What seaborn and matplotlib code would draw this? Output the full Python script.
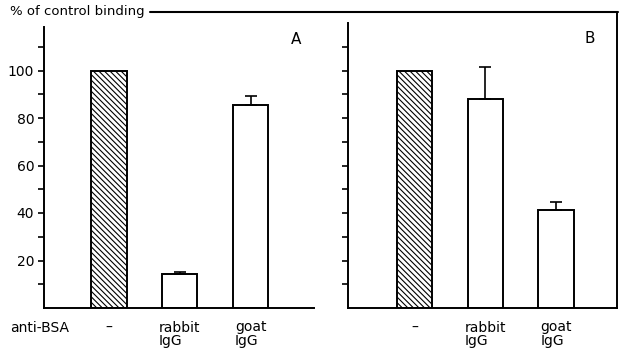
import numpy as np
import pandas as pd
import matplotlib
matplotlib.use("Agg")
import matplotlib.pyplot as plt
import seaborn as sns
from matplotlib.lines import Line2D

# Binding relative to control (no antibody), mean with upper SE
treatments = ["–", "rabbit\nIgG", "goat\nIgG"]
binding_a = [100, 14.2, 85.4]
error_a = [0, 1.0, 3.8]
binding_b = [100, 87.8, 41.2]
error_b = [0, 13.6, 3.6]
major_ticks = [20, 40, 60, 80, 100]
minor_ticks = [10, 30, 50, 70, 90, 110]

sns.set_theme(style="ticks")
plt.rcParams["font.family"] = ["DejaVu Sans"]
plt.rcParams["hatch.linewidth"] = 0.8
plt.rcParams["hatch.color"] = "black"
for key in ("text.color", "xtick.color", "ytick.color", "axes.labelcolor",
            "xtick.labelcolor", "ytick.labelcolor"):
    plt.rcParams[key] = "black"

W, H = 622, 350
fig = plt.figure(figsize=(W / 100, H / 100), dpi=100)
fig.patch.set_facecolor("white")

PX_PER_UNIT = 2.375
ax_a = fig.add_axes([44 / W, 42 / H, 270 / W, 281 / H])
ax_b = fig.add_axes([348 / W, 42 / H, 269 / W, 296 / H])


def draw_panel(ax, values, errors, letter, letter_pos, xlim):
    df = pd.DataFrame({"treatment": treatments, "binding": values})
    sns.barplot(data=df, x="treatment", y="binding", ax=ax, color="white",
                edgecolor="black", linewidth=1.4, width=0.5, errorbar=None,
                saturation=1)
    ax.patches[0].set_hatch("\\\\\\\\\\\\")
    idx = [i for i, e in enumerate(errors) if e > 0]
    ax.errorbar(idx, [values[i] for i in idx],
                yerr=[np.zeros(len(idx)), [errors[i] for i in idx]],
                fmt="none", ecolor="black", elinewidth=1.2, capsize=4,
                capthick=1.2, zorder=1)
    ax.set_xlim(*xlim)
    ax.set_xlabel("")
    ax.set_ylabel("")
    ax.set_facecolor("white")
    ax.set_xticks(range(len(treatments)))
    ax.set_xticklabels(treatments, multialignment="left", linespacing=0.95,
                       fontsize=10)
    ax.tick_params(axis="x", length=0, pad=9)
    ax.set_yticks(major_ticks)
    ax.set_yticks(minor_ticks, minor=True)
    ax.tick_params(axis="y", which="both", direction="out", length=4,
                   width=1.2, color="black", labelsize=10, pad=3)
    for s in ax.spines.values():
        s.set_linewidth(1.4)
        s.set_color("black")
    ax.text(*letter_pos, letter, transform=ax.transAxes, ha="center",
            va="center", fontsize=11)


draw_panel(ax_a, binding_a, error_a, "A", (0.933, 0.954), (-0.915, 2.894))
ax_a.set_ylim(0, 281 / PX_PER_UNIT)
ax_a.spines["top"].set_visible(False)
ax_a.spines["right"].set_visible(False)

draw_panel(ax_b, binding_b, error_b, "B", (0.9, 0.909), (-0.94, 2.862))
ax_b.set_ylim(0, 296 / PX_PER_UNIT)
ax_b.tick_params(axis="y", labelleft=False)
ax_b.spines["top"].set_visible(False)
ax_b.spines["left"].set_bounds(0, 120)

# Common y-axis caption with its rule running across to panel B
fig.text(10 / W, 1 - 12 / H, "% of control binding", ha="left", va="center",
         fontsize=9.5)
fig.add_artist(Line2D([150 / W, 617.7 / W], [1 - 12 / H, 1 - 12 / H],
                      transform=fig.transFigure, color="black", lw=1.5))

fig.text(10 / W, 1 - 328 / H, "anti-BSA", ha="left", va="center", fontsize=10)

fig.savefig("out.png", dpi=100, facecolor="white")
